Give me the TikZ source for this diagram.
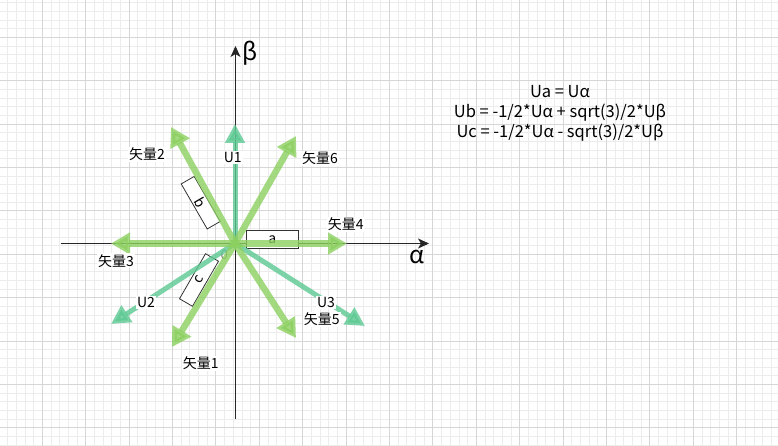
\documentclass[tikz,border=0pt]{standalone}
\usepackage{fontspec}
\setmainfont{Noto Sans CJK SC}
\usetikzlibrary{arrows.meta}
\definecolor{vecgreen}{RGB}{140,208,96}
\definecolor{uteal}{RGB}{92,201,146}
\definecolor{gridminor}{RGB}{236,236,236}
\definecolor{gridmajor}{RGB}{214,214,214}

\begin{document}
\begin{tikzpicture}[x=1pt,y=-1pt,
  minorline/.style={draw=gridminor, line width=.9pt},
  majorline/.style={draw=gridmajor, line width=.9pt},
  axis/.style={draw=black!85, line width=1pt, -{Stealth[length=11pt,width=10pt,inset=3pt]}},
  vec/.style={draw=vecgreen, line width=6.5pt, opacity=.8, -{Triangle[length=19pt,width=21pt]}},
  uvec/.style={draw=uteal, line width=5pt, opacity=.8, -{Triangle[length=19pt,width=19pt]}},
  lbl/.style={fill=white, inner sep=1pt, font=\fontsize{14}{16}\selectfont},
  axlbl/.style={inner sep=0pt, font=\fontsize{24}{26}\selectfont},
  box/.style={draw=black!80, fill=white, line width=.8pt, minimum width=52pt,
    minimum height=15pt, inner sep=0pt, font=\fontsize{14}{14}\selectfont}]
  \useasboundingbox (0,0) rectangle (778,446);
  \fill[white] (0,0) rectangle (778,446);
  % grid
  \begin{scope}
    \clip (0,0) rectangle (778,446);
    \foreach \i in {0,...,89} \draw[minorline] ({7.6+8.68*\i},0) -- ({7.6+8.68*\i},446);
    \foreach \j in {0,...,51} \draw[minorline] (0,{2.6+8.68*\j}) -- (778,{2.6+8.68*\j});
    \foreach \i in {4,9,...,89} \draw[majorline] ({7.6+8.68*\i},0) -- ({7.6+8.68*\i},446);
    \foreach \j in {4,9,...,49} \draw[majorline] (0,{2.6+8.68*\j}) -- (778,{2.6+8.68*\j});
  \end{scope}

  % axes
  \coordinate (O) at (235,243.5);
  \coordinate (xl) at (61,243.5);
  \coordinate (xr) at (429,243.5);
  \coordinate (yb) at (235.5,419);
  \coordinate (yt) at (235.5,46);
  \draw[axis] (xl) -- (xr);
  \draw[axis] (yb) -- (yt);
  \node[axlbl] (alpha) at (417,257) {α};
  \node[axlbl] (beta) at (250,53) {β};

  % boxes
  \node[box, minimum height=18.5pt] (boxa) at (272.3,239.2) {a};
  \node[box, rotate=-60] (boxb) at (200.7,202.7) {b};
  \node[box, rotate=60] (boxc) at (199,280) {c};
  \node[inner sep=0pt, text=black!55, font=\fontsize{13}{14}\selectfont] (zero) at (224.3,255) {0};

  % vectors
  \coordinate (t1) at (172,347);
  \coordinate (t2) at (171,127);
  \coordinate (t3) at (111,243.5);
  \coordinate (t4) at (347,243.5);
  \coordinate (t5) at (296,338);
  \coordinate (t6) at (296,136);
  \coordinate (u1) at (235,124);
  \coordinate (u2) at (111,324);
  \coordinate (u3) at (365,326);
  \foreach \t in {u1,u2,u3} \draw[uvec] (O) -- (\t);
  \foreach \t in {t1,t2,t3,t4,t5,t6} \draw[vec] (O) -- (\t);

  % labels
  \node[lbl] (v1) at (200.7,363.3) {矢量1};
  \node[lbl] (v2) at (147,154.3) {矢量2};
  \node[lbl] (v3) at (116,260.7) {矢量3};
  \node[lbl] (v4) at (345.7,224.3) {矢量4};
  \node[lbl] (v5) at (321.7,319.3) {矢量5};
  \node[lbl] (v6) at (320,158.3) {矢量6};
  \node[lbl] (U1) at (232.7,157.3) {U1};
  \node[lbl] (U2) at (146,302.7) {U2};
  \node[lbl] (U3) at (326,302.7) {U3};

  % formulas
  \node[align=center, inner sep=0pt, font=\fontsize{16.5}{20}\selectfont] (eq) at (560,113)
    {Ua = Uα\\Ub = -1/2*Uα + sqrt(3)/2*Uβ\\Uc = -1/2*Uα - sqrt(3)/2*Uβ};
\end{tikzpicture}
\end{document}
